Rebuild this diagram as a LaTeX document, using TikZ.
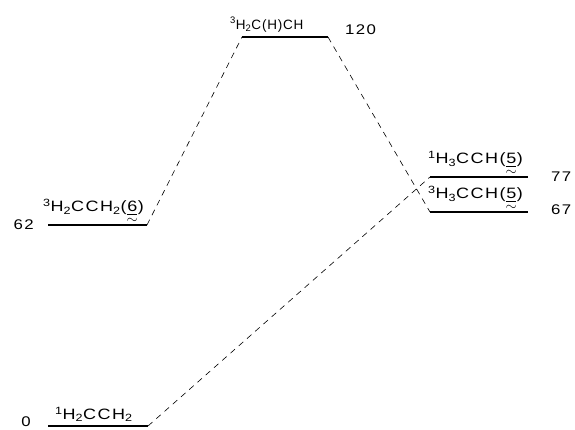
\documentclass[tikz,border=0pt]{standalone}
\usepackage{amsmath}
\usepackage{fontspec}
\setmainfont{Liberation Sans}
\newfontfamily\pismo[FakeStretch=1.2,LetterSpace=10]{Liberation Sans}
\newfontfamily\pismoB[LetterSpace=6]{Liberation Sans}
\usetikzlibrary{positioning,calc}
\tikzset{
  hladina/.style={line width=1.3pt},
  spoj/.style={line width=0.6pt,dash pattern=on 6pt off 5pt},
  popis/.style={font=\pismo\fontsize{15}{17}\selectfont,inner sep=1pt,anchor=south west},
  popisB/.style={font=\pismoB\fontsize{13.5}{15}\selectfont,inner sep=1pt,anchor=south west},
  energia/.style={font=\pismo\fontsize{14}{16}\selectfont,inner sep=0pt},
}
\newcommand{\zlc}[1]{\ensuremath{\underset{\textstyle\sim}{\underline{\mbox{#1}}}}}

\begin{document}
\begin{tikzpicture}[x=1pt,y=-1pt]
  \useasboundingbox (0,0) rectangle (575,430);
  % hladiny
  \coordinate (n0l) at (48,426);   \coordinate (n0r) at (148,426);
  \coordinate (n62l) at (48,225);  \coordinate (n62r) at (147,225);
  \coordinate (n120l) at (242,37); \coordinate (n120r) at (328,37);
  \coordinate (n77l) at (430,177); \coordinate (n77r) at (528,177);
  \coordinate (n67l) at (430,212); \coordinate (n67r) at (528,212);
  \draw[hladina] (n0l)--(n0r) (n62l)--(n62r) (n120l)--(n120r)
    (n77l)--(n77r) (n67l)--(n67r);
  % spojnice
  \draw[spoj] (n0r)--(n77l) (n62r)--(n120l) (n120r)--(n67l);
  % popisy
  \node[popis] (t0) at ($(n0l)+(6,-3)$) {\textsuperscript{1}H\textsubscript{2}CCH\textsubscript{2}};
  \node[popis] (t62) at ($(n62l)+(-6,1)$) {\textsuperscript{3}H\textsubscript{2}CCH\textsubscript{2}(\zlc{6})};
  \node[popisB] (t120) at ($(n120l)+(-13,-4)$) {\textsuperscript{3}H\textsubscript{2}C(H)CH};
  \node[popis] (t77) at ($(n77l)+(-3,1)$) {\textsuperscript{1}H\textsubscript{3}CCH(\zlc{5})};
  \node[popis] (t67) at ($(n67l)+(-3,1)$) {\textsuperscript{3}H\textsubscript{3}CCH(\zlc{5})};
  % energie
  \node[energia,left=17pt of n0l,yshift=4pt] (e0) {0};
  \node[energia,left=14pt of n62l] (e62) {62};
  \node[energia,right=17pt of n120r,yshift=7pt] (e120) {120};
  \node[energia,right=23pt of n77r] (e77) {77};
  \node[energia,right=23pt of n67r,yshift=2pt] (e67) {67};
\end{tikzpicture}
\end{document}
